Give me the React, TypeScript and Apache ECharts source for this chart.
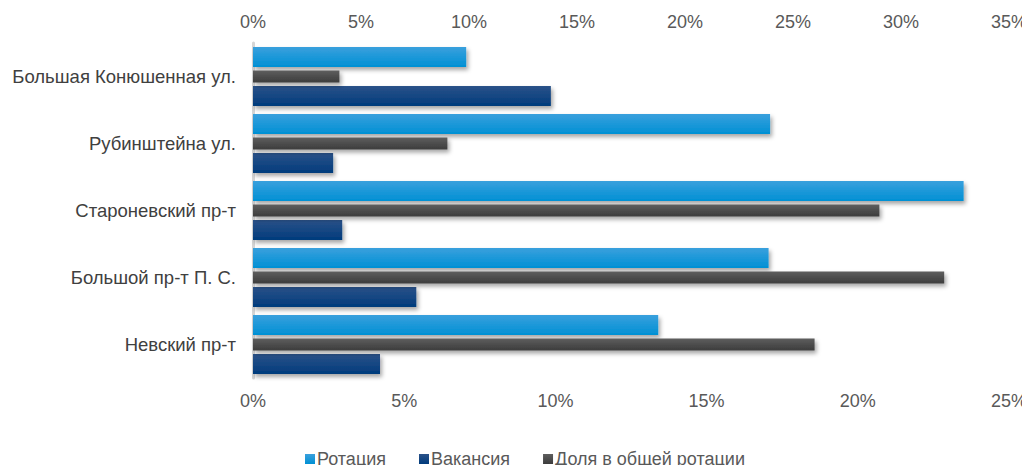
import React, { useEffect, useRef } from "react";
import * as echarts from "echarts";

const categories = [
  "Большая Конюшенная ул.",
  "Рубинштейна ул.",
  "Староневский пр-т",
  "Большой пр-т П. С.",
  "Невский пр-т",
];
const rotation = [7.05, 17.1, 23.5, 17.05, 13.4];
const vacancy = [9.85, 2.65, 2.95, 5.4, 4.2];
const share = [4.0, 9.0, 29.0, 32.0, 26.0];
const bottomTicks = { min: 0, max: 25, interval: 5 };
const topTicks = { min: 0, max: 35, interval: 5 };

const FONT = "'Liberation Sans', Arial, sans-serif";

const grad = (a: string, b: string) => ({
  type: "linear",
  x: 0,
  y: 0,
  x2: 0,
  y2: 1,
  colorStops: [
    { offset: 0, color: a },
    { offset: 1, color: b },
  ],
});

const shadow = {
  shadowColor: "rgba(0,0,0,0.35)",
  shadowBlur: 4,
  shadowOffsetX: 2,
  shadowOffsetY: 3,
};

export default function App() {
  const ref = useRef<HTMLDivElement>(null);
  useEffect(() => {
    if (!ref.current) return;
    const chart = echarts.init(ref.current, undefined, { renderer: "svg" });
    chart.setOption({
      animation: false,
      textStyle: { fontFamily: FONT },
      grid: { left: 253, right: 20, top: 43, bottom: 95, containLabel: false },
      legend: {
        left: 300,
        top: 445,
        icon: "rect",
        itemWidth: 10,
        itemHeight: 10,
        itemGap: 33,
        data: ["Ротация", "Вакансия", "Доля в общей ротации"],
        textStyle: { fontSize: 18, color: "#595959", fontFamily: FONT, padding: [0, 0, 0, -3] },
      },
      xAxis: [
        {
          type: "value",
          position: "bottom",
          ...bottomTicks,
          axisLine: { show: false },
          axisTick: { show: false },
          splitLine: { show: false },
          axisLabel: {
            formatter: "{value}%",
            fontSize: 18,
            color: "#595959",
            margin: 14,
            fontFamily: FONT,
          },
        },
        {
          type: "value",
          position: "top",
          ...topTicks,
          axisLine: { show: false },
          axisTick: { show: false },
          splitLine: { show: false },
          axisLabel: {
            formatter: "{value}%",
            fontSize: 18,
            color: "#595959",
            margin: 12,
            fontFamily: FONT,
          },
        },
      ],
      yAxis: [
        {
          type: "category",
          data: categories,
          inverse: true,
          axisLine: { show: true, lineStyle: { color: "#d6d6d6", width: 3 } },
          axisTick: { show: false },
          axisLabel: { fontSize: 18.5, color: "#404040", margin: 17, fontFamily: FONT },
        },
        {
          type: "category",
          data: categories,
          inverse: true,
          show: false,
        },
      ],
      series: [
        {
          name: "Ротация",
          type: "bar",
          xAxisIndex: 0,
          yAxisIndex: 0,
          data: rotation,
          barWidth: 20,
          barGap: "95%",
          itemStyle: { color: grad("#3aa0dd", "#0090d4"), ...shadow },
        },
        {
          name: "Вакансия",
          type: "bar",
          xAxisIndex: 0,
          yAxisIndex: 0,
          data: vacancy,
          barWidth: 20,
          barGap: "95%",
          itemStyle: { color: grad("#2b5289", "#003b7c"), ...shadow },
        },
        {
          name: "Доля в общей ротации",
          type: "bar",
          xAxisIndex: 1,
          yAxisIndex: 1,
          data: share,
          barWidth: 12,
          itemStyle: { color: grad("#5e5e5e", "#3c3c3c"), ...shadow },
        },
      ],
    });
    return () => chart.dispose();
  }, []);
  return <div ref={ref} style={{ width: 1030, height: 473, margin: -8 }} />;
}
